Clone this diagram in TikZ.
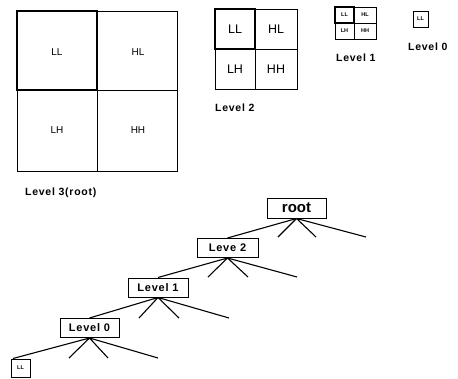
\documentclass[tikz,border=0pt]{standalone}
\usepackage{fontspec}
\setmainfont{Liberation Sans}
\newfontfamily\spacedbold[LetterSpace=7,BoldFont={* Bold}]{Liberation Sans}
\begin{document}
\begin{tikzpicture}[x=1pt,y=-1pt,
  quad/.style={draw=black,line width=0.9pt},
  hot/.style={draw=black,line width=1.5pt},
  lvlcaption/.style={font=\spacedbold\bfseries\fontsize{10.5}{12}\selectfont,anchor=west,inner sep=0pt},
  tnode/.style={draw=black,line width=1pt,minimum height=19pt,inner sep=2pt,font=\spacedbold\bfseries\fontsize{11}{12}\selectfont},
  branch/.style={line width=1.1pt}]
\useasboundingbox (0,0) rectangle (458,378);

% ---- Level 3 (root) block ----
\draw[quad] (17,11) rectangle (177,171);
\draw[quad] (97,11) -- (97,171) (17,90) -- (177,90);
\draw[hot] (17,11) rectangle (97,90);
\begin{scope}[font=\fontsize{10}{11}\selectfont]
\node (l3ll) at (57,52) {LL};
\node (l3hl) at (138,52) {HL};
\node (l3lh) at (57,130) {LH};
\node (l3hh) at (138,130) {HH};
\end{scope}
\node[lvlcaption] (c3) at (25,193) {Level 3(root)};

% ---- Level 2 block ----
\draw[quad] (215,9) rectangle (297,89);
\draw[quad] (255,9) -- (255,89) (215,49) -- (297,49);
\draw[hot] (215,9) rectangle (255,49);
\begin{scope}[font=\fontsize{12.5}{13}\selectfont]
\node (l2ll) at (235,29) {LL};
\node (l2hl) at (276,29) {HL};
\node (l2lh) at (235,69) {LH};
\node (l2hh) at (276,69) {HH};
\end{scope}
\node[lvlcaption] (c2) at (215,108) {Level 2};

% ---- Level 1 block ----
\draw[quad] (335,7) rectangle (376,39);
\draw[quad] (354,7) -- (354,39) (335,23) -- (376,23);
\draw[hot] (335,7) rectangle (354,23);
\begin{scope}[font=\bfseries\fontsize{5.5}{6}\selectfont,inner sep=0pt]
\node (l1ll) at (344.5,15) {LL};
\node (l1hl) at (365,15) {HL};
\node (l1lh) at (344.5,31) {LH};
\node (l1hh) at (365,31) {HH};
\end{scope}
\node[lvlcaption] (c1) at (336,58) {Level 1};

% ---- Level 0 block ----
\draw[quad] (413,11) rectangle (428,27);
\node[font=\bfseries\fontsize{5.5}{6}\selectfont,inner sep=0pt] (l0ll) at (420.5,19) {LL};
\node[lvlcaption] (c0) at (408,47) {Level 0};

% ---- tree ----
\node[tnode,minimum width=59pt,font=\bfseries\fontsize{15}{16}\selectfont,minimum height=20pt] (root) at (296.5,208) {root};
\node[tnode,minimum width=61pt] (n2) at (227.5,248) {Leve 2};
\node[tnode,minimum width=60pt] (n1) at (158,287.5) {Level 1};
\node[tnode,minimum width=59pt] (n0) at (89.5,328) {Level 0};
\node[draw=black,line width=1pt,minimum width=19pt,minimum height=18pt,inner sep=0pt,
      font=\bfseries\fontsize{5.5}{6}\selectfont] (leaf) at (20.5,368) {LL};

\coordinate (r2) at (278,237);
\coordinate (r3) at (316,237);
\coordinate (r4) at (366,237);
\coordinate (a2) at (208,277);
\coordinate (a3) at (248,277);
\coordinate (a4) at (297,277);
\coordinate (b2) at (139,318);
\coordinate (b3) at (179,318);
\coordinate (b4) at (229,318);
\coordinate (d1) at (13,358.5);
\coordinate (d2) at (69,358);
\coordinate (d3) at (108,358);
\coordinate (d4) at (158,358);

\draw[branch] (root.south) -- (n2.north)
              (root.south) -- (r2) (root.south) -- (r3) (root.south) -- (r4);
\draw[branch] (n2.south) -- (n1.north)
              (n2.south) -- (a2) (n2.south) -- (a3) (n2.south) -- (a4);
\draw[branch] (n1.south) -- (n0.north)
              (n1.south) -- (b2) (n1.south) -- (b3) (n1.south) -- (b4);
\draw[branch] (n0.south) -- (d1)
              (n0.south) -- (d2) (n0.south) -- (d3) (n0.south) -- (d4);
\end{tikzpicture}
\end{document}
